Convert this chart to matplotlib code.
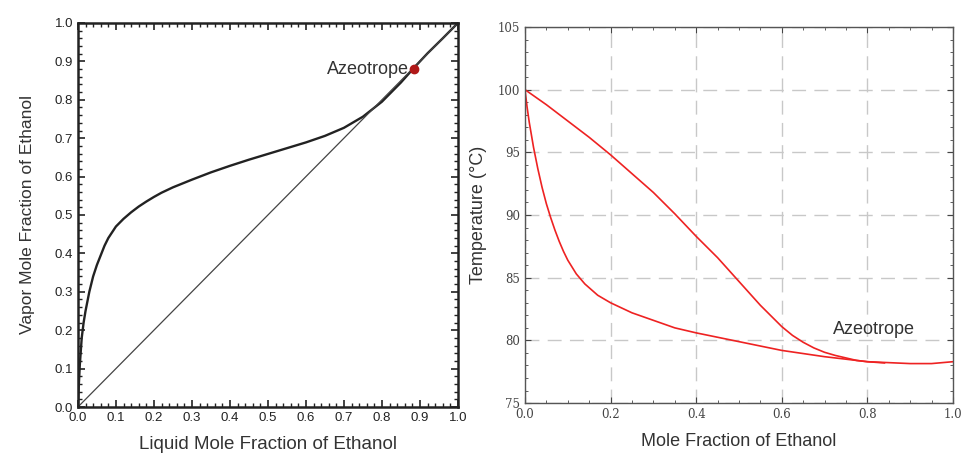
import numpy as np
import matplotlib.pyplot as plt
from matplotlib.ticker import MultipleLocator, FormatStrFormatter

# x-y equilibrium data (ethanol-water)
x_liq = [0.0, 0.0025, 0.005, 0.01, 0.015, 0.02, 0.03, 0.04, 0.05, 0.06, 0.07, 0.08,
         0.09, 0.10, 0.12, 0.14, 0.16, 0.18, 0.20, 0.22, 0.25, 0.28, 0.30, 0.35,
         0.40, 0.45, 0.50, 0.55, 0.60, 0.65, 0.70, 0.75, 0.80, 0.85, 0.885, 0.92,
         0.96, 1.0]
y_vap = [0.0, 0.06, 0.11, 0.18, 0.22, 0.25, 0.30, 0.34, 0.37, 0.395, 0.42, 0.44,
         0.455, 0.47, 0.49, 0.507, 0.522, 0.535, 0.547, 0.558, 0.572, 0.584, 0.592, 0.611,
         0.628, 0.644, 0.659, 0.674, 0.689, 0.706, 0.727, 0.756, 0.795, 0.845, 0.884, 0.921,
         0.96, 1.0]
azeo_x, azeo_y = 0.885, 0.88

# T-x-y data
dew_x = [0.0, 0.05, 0.10, 0.15, 0.20, 0.25, 0.30, 0.35, 0.40, 0.45, 0.50, 0.55,
         0.60, 0.625, 0.65, 0.675, 0.70, 0.725, 0.75, 0.775, 0.80, 0.84]
dew_T = [100.0, 98.8, 97.5, 96.2, 94.8, 93.3, 91.8, 90.1, 88.3, 86.6, 84.7, 82.8,
         81.1, 80.4, 79.85, 79.4, 79.05, 78.8, 78.6, 78.4, 78.3, 78.2]
bub_x = [0.0, 0.005, 0.01, 0.015, 0.02, 0.03, 0.04, 0.05, 0.06, 0.07, 0.08, 0.09,
         0.10, 0.12, 0.14, 0.17, 0.20, 0.25, 0.30, 0.35, 0.40, 0.50, 0.60, 0.70,
         0.80, 0.90, 0.95, 1.0]
bub_T = [100.0, 98.6, 97.4, 96.4, 95.4, 93.7, 92.2, 90.9, 89.8, 88.8, 87.9, 87.1,
         86.4, 85.3, 84.5, 83.6, 83.0, 82.2, 81.6, 81.0, 80.6, 79.9, 79.2, 78.7,
         78.3, 78.15, 78.15, 78.3]

plt.rcParams['font.family'] = ['Liberation Sans', 'DejaVu Sans']

fig = plt.figure(figsize=(9.62, 4.57), dpi=100)

# Left: x-y diagram
##################################################################
ax1 = fig.add_axes([0.081, 0.1094, 0.395, 0.8403])
ax1.plot(x_liq, y_vap, color='#222222', linewidth=1.7)
ax1.plot([0, 1], [0, 1], color='#444444', linewidth=0.9)
ax1.plot(azeo_x, azeo_y, 'o', color='#b01818', markersize=6)
ax1.text(azeo_x - 0.015, azeo_y, 'Azeotrope', ha='right', va='center',
         fontsize=13, color='#333333')
ax1.set_xlim(0, 1)
ax1.set_ylim(0, 1)
ax1.xaxis.set_major_locator(MultipleLocator(0.1))
ax1.yaxis.set_major_locator(MultipleLocator(0.1))
ax1.xaxis.set_minor_locator(MultipleLocator(0.02))
ax1.yaxis.set_minor_locator(MultipleLocator(0.02))
ax1.xaxis.set_major_formatter(FormatStrFormatter('%.1f'))
ax1.yaxis.set_major_formatter(FormatStrFormatter('%.1f'))
ax1.tick_params(which='both', direction='in', top=True, right=True, labelsize=9.5,
                colors='#222222')
ax1.tick_params(which='major', length=5, width=1.2)
ax1.tick_params(which='minor', length=3, width=1.0)
for s in ax1.spines.values():
    s.set_linewidth(1.8)
    s.set_color('#222222')
ax1.set_xlabel('Liquid Mole Fraction of Ethanol', fontsize=13.5, color='#333333', labelpad=9)
ax1.set_ylabel('Vapor Mole Fraction of Ethanol', fontsize=12.5, color='#333333', labelpad=14)

# Right: T-x-y diagram
##################################################################
ax2 = fig.add_axes([0.5457, 0.118, 0.4449, 0.823])
ax2.plot(dew_x, dew_T, color='#ee2222', linewidth=1.2)
ax2.plot(bub_x, bub_T, color='#ee2222', linewidth=1.2)
ax2.text(0.72, 80.9, 'Azeotrope', ha='left', va='center', fontsize=13, color='#333333')
ax2.set_xlim(0, 1)
ax2.set_ylim(75, 105)
ax2.xaxis.set_major_locator(MultipleLocator(0.2))
ax2.yaxis.set_major_locator(MultipleLocator(5))
ax2.xaxis.set_minor_locator(MultipleLocator(0.05))
ax2.yaxis.set_minor_locator(MultipleLocator(1))
ax2.xaxis.set_major_formatter(FormatStrFormatter('%.1f'))
ax2.yaxis.set_major_formatter(FormatStrFormatter('%d'))
ax2.grid(True, which='major', linestyle=(0, (10, 6)), color='#c8c8c8', linewidth=1.0)
ax2.tick_params(which='both', direction='in', top=True, right=True, labelsize=8.5,
                colors='#444444')
ax2.tick_params(which='major', length=4)
ax2.tick_params(which='minor', length=2)
for lbl in ax2.get_xticklabels() + ax2.get_yticklabels():
    lbl.set_family('DejaVu Serif')
for s in ax2.spines.values():
    s.set_linewidth(1.0)
    s.set_color('#555555')
ax2.set_xlabel('Mole Fraction of Ethanol', fontsize=13, color='#333333', labelpad=9)
ax2.set_ylabel('Temperature (\u00b0C)', fontsize=13, color='#333333', labelpad=8)

fig.savefig('out.png', dpi=100)
